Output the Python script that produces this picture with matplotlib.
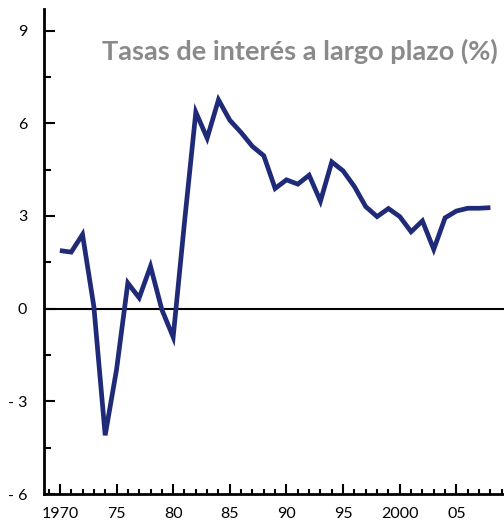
import matplotlib
matplotlib.use("Agg")
import matplotlib.pyplot as plt
from matplotlib.ticker import MultipleLocator

# Long-term interest rates (%)
years = list(range(1970, 2009))
rates = [1.88, 1.83, 2.40, 0.07, -4.10, -1.98, 0.83, 0.35, 1.37, -0.03,
         -0.92, 2.80, 6.36, 5.52, 6.76, 6.10, 5.70, 5.25, 4.95, 3.89,
         4.17, 4.03, 4.32, 3.48, 4.75, 4.46, 3.95, 3.30, 2.98, 3.24,
         2.98, 2.49, 2.84, 1.92, 2.94, 3.16, 3.25, 3.25, 3.27]

ytick_vals = [-6, -3, 0, 3, 6, 9]
ytick_labels = ["- 6", "- 3", "0", "3", "6", "9"]
xtick_vals = [1970, 1975, 1980, 1985, 1990, 1995, 2000, 2005]
xtick_labels = ["1970", "75", "80", "85", "90", "95", "2000", "05"]

title = "Tasas de interés a largo plazo (%)"

plt.rcParams['font.family'] = ['Lato', 'DejaVu Sans']

fig = plt.figure(figsize=(5.04, 5.25), dpi=100)
ax = fig.add_axes([44 / 504, 31 / 525, 460 / 504, 485 / 525])

ax.plot(years, rates, color='#1f2a78', lw=3.4, solid_joinstyle='miter',
        solid_capstyle='butt', zorder=3)
ax.axhline(0, color='black', lw=1.5, zorder=2)

ax.set_xlim(1968.6, 2009.2)
ax.set_ylim(-6, 9.7)

for side in ('top', 'right'):
    ax.spines[side].set_visible(False)
for side in ('left', 'bottom'):
    ax.spines[side].set_linewidth(2)

ax.set_yticks(ytick_vals)
ax.set_yticklabels(ytick_labels)
ax.yaxis.set_minor_locator(MultipleLocator(1.5))
ax.set_xticks(xtick_vals)
ax.set_xticklabels(xtick_labels)
ax.xaxis.set_minor_locator(MultipleLocator(1))

ax.tick_params(axis='both', which='major', direction='in', width=1.5,
               labelsize=11.5, colors='black')
ax.tick_params(axis='y', which='major', length=8, pad=12)
ax.tick_params(axis='y', which='minor', direction='in', length=5, width=1.5)
ax.tick_params(axis='x', which='major', length=7, pad=9)
ax.tick_params(axis='x', which='minor', direction='in', length=3.5, width=1.5)

fig.text(498 / 504, 1 - 51 / 525, title, ha='right', va='center',
         fontsize=19.5, fontweight='bold', color='#8a8a8a')

fig.savefig('out.png', dpi=100)
